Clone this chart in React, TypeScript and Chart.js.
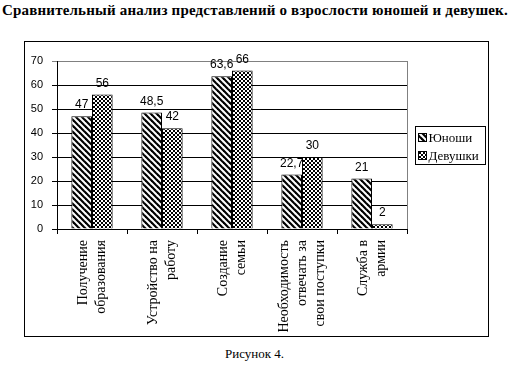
import React, { useEffect, useRef } from "react";
import { Chart, registerables } from "chart.js";

Chart.register(...registerables);

const titleText = "Сравнительный анализ представлений о взрослости юношей и девушек.";
const captionText = "Рисунок 4.";
const categories: string[][] = [
  ["Получение", "образования"],
  ["Устройство на", "работу"],
  ["Создание", "семьи"],
  ["Необходимость", "отвечать за", "свои поступки"],
  ["Служба в", "армии"],
];
const seriesNames = ["Юноши", "Девушки"];
const boysValues = [47, 48.5, 63.6, 22.7, 21];
const girlsValues = [56, 42, 66, 30, 2];
const yMin = 0;
const yMax = 70;
const yStep = 10;

function makeStripePattern(ctx: CanvasRenderingContext2D) {
  const c = document.createElement("canvas");
  c.width = 6;
  c.height = 6;
  const x = c.getContext("2d")!;
  x.fillStyle = "#fff";
  x.fillRect(0, 0, 6, 6);
  x.strokeStyle = "#000";
  x.lineWidth = 2.2;
  for (const k of [-6, 0, 6]) {
    x.beginPath();
    x.moveTo(k - 1, -1);
    x.lineTo(k + 7, 7);
    x.stroke();
  }
  return ctx.createPattern(c, "repeat")!;
}

function makeDotPattern(ctx: CanvasRenderingContext2D) {
  const c = document.createElement("canvas");
  c.width = 4;
  c.height = 4;
  const x = c.getContext("2d")!;
  x.fillStyle = "#fff";
  x.fillRect(0, 0, 4, 4);
  x.fillStyle = "#000";
  x.fillRect(0, 0, 2, 2);
  x.fillRect(2, 2, 2, 2);
  return ctx.createPattern(c, "repeat")!;
}

const fmt = (v: number) => String(v).replace(".", ",");

export default function App() {
  const ref = useRef<HTMLCanvasElement | null>(null);

  useEffect(() => {
    const canvas = ref.current!;
    const ctx = canvas.getContext("2d")!;
    const stripes = makeStripePattern(ctx);
    const dots = makeDotPattern(ctx);
    const fills = [stripes, dots];

    const extras = {
      id: "extras",
      beforeDatasetsDraw(chart: any) {
        const { ctx, chartArea } = chart;
        ctx.save();
        ctx.strokeStyle = "#808080";
        ctx.lineWidth = 1;
        ctx.beginPath();
        ctx.moveTo(Math.round(chartArea.right) + 0.5, chartArea.top);
        ctx.lineTo(Math.round(chartArea.right) + 0.5, chartArea.bottom);
        ctx.stroke();
        ctx.restore();
      },
      afterDatasetsDraw(chart: any) {
        const { ctx, chartArea } = chart;
        ctx.save();
        // data labels
        ctx.fillStyle = "#000";
        ctx.font = "12px 'Liberation Sans', Arial, sans-serif";
        ctx.textAlign = "center";
        ctx.textBaseline = "alphabetic";
        chart.data.datasets.forEach((ds: any, di: number) => {
          const meta = chart.getDatasetMeta(di);
          meta.data.forEach((bar: any, i: number) => {
            ctx.fillText(fmt(ds.data[i]), bar.x, bar.y - 8);
          });
        });
        // category labels (rotated, centered on category)
        const xs = chart.scales.x;
        ctx.font = "14px 'Liberation Serif', 'Times New Roman', serif";
        ctx.textAlign = "right";
        ctx.textBaseline = "middle";
        const lh = 18;
        categories.forEach((lines, i) => {
          const cx = xs.getPixelForValue(i);
          const n = lines.length;
          lines.forEach((ln, j) => {
            const px = cx + (j - (n - 1) / 2) * lh;
            ctx.save();
            ctx.translate(px, chartArea.bottom + 11);
            ctx.rotate(-Math.PI / 2);
            ctx.fillText(ln, 0, 0);
            ctx.restore();
          });
        });
        // legend
        const bx = Math.round(chartArea.right) + 8.5;
        const bw = 70;
        const bh = 38;
        const by = Math.round((chartArea.top + chartArea.bottom) / 2 - bh / 2) + 0.5;
        ctx.fillStyle = "#fff";
        ctx.fillRect(bx, by, bw, bh);
        ctx.strokeStyle = "#000";
        ctx.lineWidth = 1;
        ctx.strokeRect(bx, by, bw, bh);
        ctx.textAlign = "left";
        ctx.textBaseline = "middle";
        ctx.font = "13px 'Liberation Serif', 'Times New Roman', serif";
        seriesNames.forEach((name, k) => {
          const cy = by + 11 + k * 18;
          ctx.fillStyle = fills[k];
          ctx.fillRect(bx + 3, cy - 4, 8, 8);
          ctx.strokeStyle = "#000";
          ctx.strokeRect(bx + 3, cy - 4, 8, 8);
          ctx.fillStyle = "#000";
          ctx.fillText(name, bx + 13, cy + 1);
        });
        ctx.restore();
      },
    };

    const chart = new Chart(canvas, {
      type: "bar",
      data: {
        labels: categories.map((c) => c.join(" ")),
        datasets: [
          {
            label: seriesNames[0],
            data: boysValues,
            backgroundColor: stripes,
            borderColor: "#000",
            borderWidth: 1,
            categoryPercentage: 0.59,
            barPercentage: 1,
          },
          {
            label: seriesNames[1],
            data: girlsValues,
            backgroundColor: dots,
            borderColor: "#000",
            borderWidth: 1,
            categoryPercentage: 0.59,
            barPercentage: 1,
          },
        ],
      },
      options: {
        animation: false,
        responsive: false,
        devicePixelRatio: 1,
        layout: { padding: { top: 19, right: 81, left: 0, bottom: 0 } },
        plugins: {
          legend: { display: false },
          tooltip: { enabled: false },
          title: { display: false },
        },
        scales: {
          x: {
            afterFit: (s: any) => {
              s.height = 107;
            },
            grid: {
              display: true,
              drawOnChartArea: false,
              drawTicks: true,
              tickLength: 5,
              offset: true,
              color: "#000",
            },
            border: { display: true, color: "#000" },
            ticks: { display: false },
          },
          y: {
            min: yMin,
            max: yMax,
            afterFit: (s: any) => {
              s.width = 32;
            },
            ticks: {
              stepSize: yStep,
              padding: 9,
              color: "#000",
              font: { family: "'Liberation Sans Narrow', 'Liberation Sans', Arial, sans-serif", size: 11 },
            },
            grid: {
              color: (c: any) => (c.tick && c.tick.value === yMax ? "#808080" : "#000"),
              tickLength: 5,
              drawTicks: true,
            },
            border: { display: true, color: "#000" },
          },
        },
      },
      plugins: [extras],
    });
    return () => chart.destroy();
  }, []);

  return (
    <div
      style={{
        position: "absolute",
        left: 0,
        top: 0,
        width: 513,
        height: 374,
        background: "#fff",
        overflow: "hidden",
      }}
    >
      <div
        style={{
          position: "absolute",
          left: 2,
          top: 2,
          whiteSpace: "nowrap",
          font: "bold 15px 'Liberation Serif', 'Times New Roman', serif",
          letterSpacing: "0.18px",
          color: "#000",
        }}
      >
        {titleText}
      </div>
      <div
        style={{
          position: "absolute",
          left: 24,
          top: 41,
          width: 463,
          height: 294,
          border: "1px solid #000",
        }}
      >
        <canvas ref={ref} width={463} height={294} style={{ display: "block", width: 463, height: 294 }} />
      </div>
      <div
        style={{
          position: "absolute",
          left: 0,
          width: 509,
          top: 346,
          textAlign: "center",
          font: "13px 'Liberation Serif', 'Times New Roman', serif",
          color: "#000",
        }}
      >
        {captionText}
      </div>
    </div>
  );
}
